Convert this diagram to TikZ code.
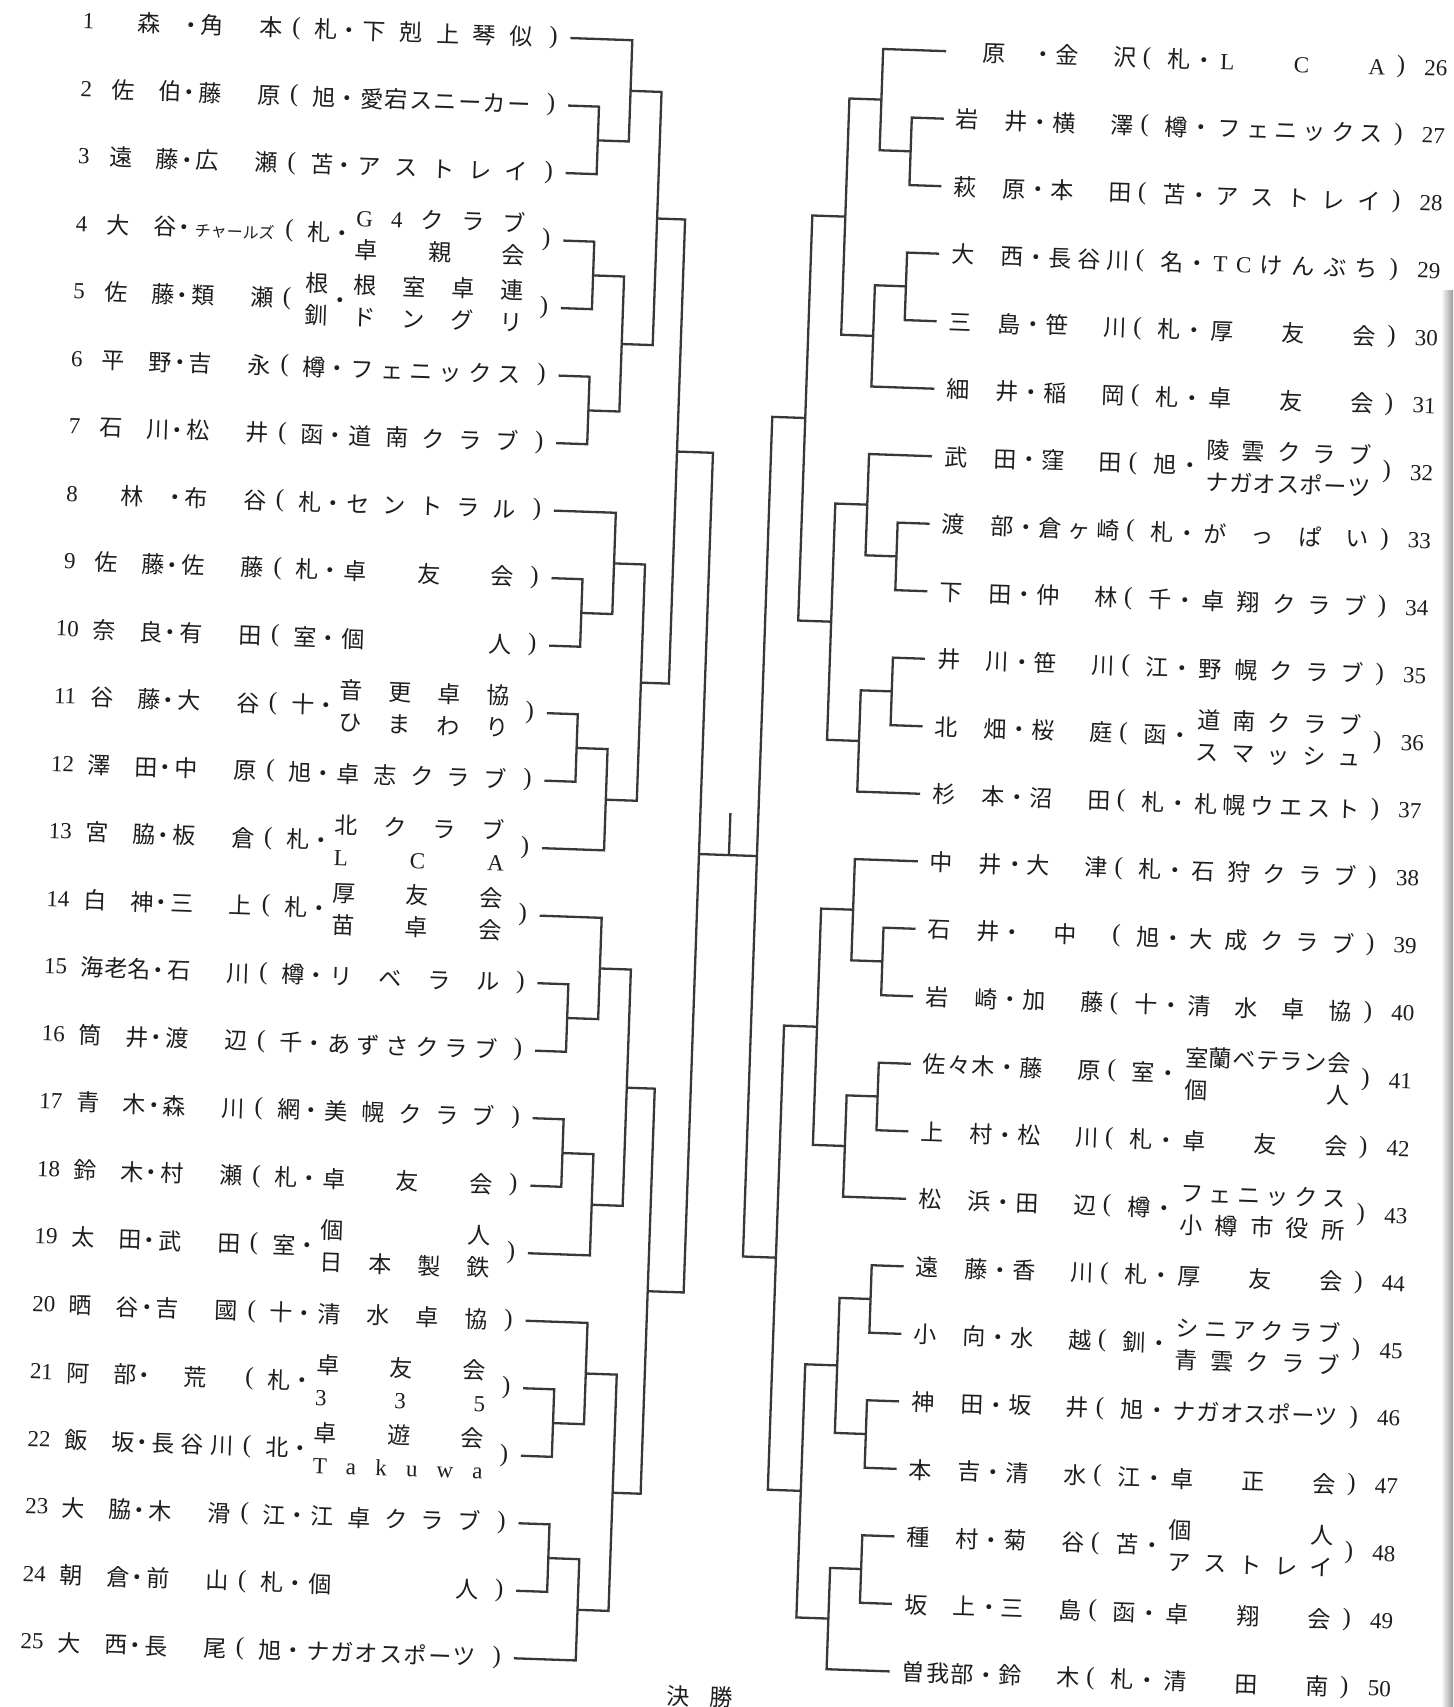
\documentclass[tikz,border=0pt]{standalone}
\usepackage{fontspec}
\newfontfamily\jp{Noto Sans CJK JP}
\newfontfamily\lat{Liberation Serif}
\newdimen\ux \ux=0.5pt
\makeatletter
\def\spx#1{\spx@a#1\relax}
\def\spx@a#1{{#1}\spx@b}
\def\spx@b#1{\ifx\relax#1\else\hfill{#1}\expandafter\spx@b\fi}
\makeatother
\newcommand\one[1]{\hfill#1\hfill}
\definecolor{ink}{HTML}{1E1E1E}
\definecolor{lin}{HTML}{383838}
\tikzset{
  t/.style={inner sep=0pt, font=\jp\fontsize{11.5}{13}\selectfont, text=ink, text height=10.1pt, text depth=1.4pt},
  num/.style={inner sep=0pt, font=\lat\fontsize{11.5}{13}\selectfont, text=ink},
  par/.style={inner sep=0pt, font=\lat\fontsize{12.5}{13}\selectfont, text=ink},
  br/.style={draw=lin, line width=1.15pt, line join=miter},
}
\newcommand\setpt[3]{\expandafter\xdef\csname PX#1\endcsname{#2}\expandafter\xdef\csname PY#1\endcsname{#3}\coordinate (#1) at (#2,#3);}
\newcommand\brk[4]{%
  \edef\ya{\csname PY#2\endcsname}\edef\yb{\csname PY#3\endcsname}%
  \pgfmathsetmacro\ym{(\ya+\yb)/2}%
  \draw[br] (#2) -- (#4,\ya) -- (#4,\yb) -- (#3);
  \setpt{#1}{#4}{\ym}}
\def\sideL{\def\Xn{60}\def\Xa{85}\def\Wa{70}\def\Xd{163}\def\Xb{172}\def\Wb{82}\def\Xp{268}\def\Xr{298}\def\Xs{321}\def\Xc{334}\def\Wc{170}\def\Xq{525}\def\Xe{542}}
\def\sideR{\def\Xn{1408}\def\Xa{930}\def\Wa{72}\def\Xd{1015}\def\Xb{1027}\def\Wb{81}\def\Xp{1119}\def\Xr{1151}\def\Xs{1176}\def\Xc{1192}\def\Wc{165}\def\Xq{1373}\def\Xe{918}}
% #1 number, #2 first name, #3 second name, #4 region, #5 club (line 1), #6 club line 2
\newcommand\ent[6]{%
  \pgfmathsetmacro\yy{44+67.55*(mod(#1-1,25))}%
  \node[num] (n#1) at (\Xn,\yy) {#1};
  \node[t,anchor=west] (a#1) at (\Xa,\yy) {\makebox[\Wa\ux][s]{#2}};
  \node[t] (d#1) at (\Xd,\yy) {・};
  \node[t,anchor=west] (b#1) at (\Xb,\yy) {\makebox[\Wb\ux][s]{#3}};
  \node[par] (p#1) at (\Xp,\yy) {(};
  \node[t] (r#1) at (\Xr,\yy) {#4};
  \node[t] (s#1) at (\Xs,\yy) {・};
  \if\relax\detokenize{#6}\relax
    \node[t,anchor=west] (c#1) at (\Xc,\yy) {\makebox[\Wc\ux][s]{\spx{#5}}};
  \else
    \node[t,anchor=west] (c#1) at (\Xc,\yy-16) {\makebox[\Wc\ux][s]{\spx{#5}}};
    \node[t,anchor=west] (cc#1) at (\Xc,\yy+16) {\makebox[\Wc\ux][s]{\spx{#6}}};
  \fi
  \node[par] (q#1) at (\Xq,\yy) {)};
  \setpt{E#1}{\Xe}{\yy}}
\begin{document}
\begin{tikzpicture}[x=0.5pt,y=-0.5pt]
\useasboundingbox (0,0) rectangle (1453,1707);
\fill[white] (0,0) rectangle (1453,1707);
\shade[left color=white, right color=black!40] (1441,290) rectangle (1453,1707);
\begin{scope}[rotate around={-2:(726.5,853.5)}, transform shape]
\sideL
\ent{1}{\one{森}}{\spx{角本}}{札}{下剋上琴似}{}
\ent{2}{\spx{佐伯}}{\spx{藤原}}{旭}{愛宕スニーカー}{}
\ent{3}{\spx{遠藤}}{\spx{広瀬}}{苫}{アストレイ}{}
\ent{4}{\spx{大谷}}{\one{\fontsize{8}{9}\selectfont チャールズ}}{札}{{\lat G}{\lat 4}クラブ}{卓親会}
\ent{5}{\spx{佐藤}}{\spx{類瀬}}{}{根室卓連}{ドングリ}
\node[t] (r5u) at (298,298.2) {根};
\node[t] (r5l) at (298,330.2) {釧};
\ent{6}{\spx{平野}}{\spx{吉永}}{樽}{フェニックス}{}
\ent{7}{\spx{石川}}{\spx{松井}}{函}{道南クラブ}{}
\ent{8}{\one{林}}{\spx{布谷}}{札}{セントラル}{}
\ent{9}{\spx{佐藤}}{\spx{佐藤}}{札}{卓友会}{}
\ent{10}{\spx{奈良}}{\spx{有田}}{室}{個人}{}
\ent{11}{\spx{谷藤}}{\spx{大谷}}{十}{音更卓協}{ひまわり}
\ent{12}{\spx{澤田}}{\spx{中原}}{旭}{卓志クラブ}{}
\ent{13}{\spx{宮脇}}{\spx{板倉}}{札}{北クラブ}{{\lat L}{\lat C}{\lat A}}
\ent{14}{\spx{白神}}{\spx{三上}}{札}{厚友会}{苗卓会}
\ent{15}{\spx{海老名}}{\spx{石川}}{樽}{リベラル}{}
\ent{16}{\spx{筒井}}{\spx{渡辺}}{千}{あずさクラブ}{}
\ent{17}{\spx{青木}}{\spx{森川}}{網}{美幌クラブ}{}
\ent{18}{\spx{鈴木}}{\spx{村瀬}}{札}{卓友会}{}
\ent{19}{\spx{太田}}{\spx{武田}}{室}{個人}{日本製鉄}
\ent{20}{\spx{晒谷}}{\spx{吉國}}{十}{清水卓協}{}
\ent{21}{\spx{阿部}}{\one{荒}}{札}{卓友会}{{\lat 3}{\lat 3}{\lat 5}}
\ent{22}{\spx{飯坂}}{\spx{長谷川}}{北}{卓遊会}{{\lat T}{\lat a}{\lat k}{\lat u}{\lat w}{\lat a}}
\ent{23}{\spx{大脇}}{\spx{木滑}}{江}{江卓クラブ}{}
\ent{24}{\spx{朝倉}}{\spx{前山}}{札}{個人}{}
\ent{25}{\spx{大西}}{\spx{長尾}}{旭}{ナガオスポーツ}{}
\sideR
\ent{26}{\one{原}}{\spx{金沢}}{札}{{\lat L}{\lat C}{\lat A}}{}
\ent{27}{\spx{岩井}}{\spx{横澤}}{樽}{フェニックス}{}
\ent{28}{\spx{萩原}}{\spx{本田}}{苫}{アストレイ}{}
\ent{29}{\spx{大西}}{\spx{長谷川}}{名}{{\lat T}{\lat C}けんぶち}{}
\ent{30}{\spx{三島}}{\spx{笹川}}{札}{厚友会}{}
\ent{31}{\spx{細井}}{\spx{稲岡}}{札}{卓友会}{}
\ent{32}{\spx{武田}}{\spx{窪田}}{旭}{陵雲クラブ}{ナガオスポーツ}
\ent{33}{\spx{渡部}}{\spx{倉ヶ崎}}{札}{がっぱい}{}
\ent{34}{\spx{下田}}{\spx{仲林}}{千}{卓翔クラブ}{}
\ent{35}{\spx{井川}}{\spx{笹川}}{江}{野幌クラブ}{}
\ent{36}{\spx{北畑}}{\spx{桜庭}}{函}{道南クラブ}{スマッシュ}
\ent{37}{\spx{杉本}}{\spx{沼田}}{札}{札幌ウエスト}{}
\ent{38}{\spx{中井}}{\spx{大津}}{札}{石狩クラブ}{}
\ent{39}{\spx{石井}}{\one{中}}{旭}{大成クラブ}{}
\ent{40}{\spx{岩崎}}{\spx{加藤}}{十}{清水卓協}{}
\ent{41}{\spx{佐々木}}{\spx{藤原}}{室}{室蘭ベテラン会}{個人}
\ent{42}{\spx{上村}}{\spx{松川}}{札}{卓友会}{}
\ent{43}{\spx{松浜}}{\spx{田辺}}{樽}{フェニックス}{小樽市役所}
\ent{44}{\spx{遠藤}}{\spx{香川}}{札}{厚友会}{}
\ent{45}{\spx{小向}}{\spx{水越}}{釧}{シニアクラブ}{青雲クラブ}
\ent{46}{\spx{神田}}{\spx{坂井}}{旭}{ナガオスポーツ}{}
\ent{47}{\spx{本吉}}{\spx{清水}}{江}{卓正会}{}
\ent{48}{\spx{種村}}{\spx{菊谷}}{苫}{個人}{アストレイ}
\ent{49}{\spx{坂上}}{\spx{三島}}{函}{卓翔会}{}
\ent{50}{\spx{曽我部}}{\spx{鈴木}}{札}{清田南}{}
% left bracket
\brk{LA}{E2}{E3}{573}
\brk{LB}{E1}{LA}{604}
\brk{LC}{E4}{E5}{573}
\brk{LD}{E6}{E7}{573}
\brk{LE}{LC}{LD}{604}
\brk{LF}{LB}{LE}{635}
\brk{LG}{E9}{E10}{573}
\brk{LH}{E8}{LG}{604}
\brk{LI}{E11}{E12}{573}
\brk{LJ}{LI}{E13}{604}
\brk{LK}{LH}{LJ}{635}
\brk{LL}{LF}{LK}{663}
\brk{LM}{E15}{E16}{573}
\brk{LN}{E14}{LM}{604}
\brk{LO}{E17}{E18}{573}
\brk{LP}{LO}{E19}{604}
\brk{LQ}{LN}{LP}{635}
\brk{LR}{E21}{E22}{573}
\brk{LS}{E20}{LR}{604}
\brk{LT}{E23}{E24}{573}
\brk{LU}{LT}{E25}{604}
\brk{LV}{LS}{LU}{635}
\brk{LW}{LQ}{LV}{663}
\brk{LX}{LL}{LW}{699}
% right bracket
\brk{RA}{E27}{E28}{886}
\brk{RB}{E26}{RA}{855}
\brk{RC}{E29}{E30}{886}
\brk{RD}{RC}{E31}{855}
\brk{RE}{RB}{RD}{823}
\brk{RF}{E33}{E34}{886}
\brk{RG}{E32}{RF}{855}
\brk{RH}{E35}{E36}{886}
\brk{RI}{RH}{E37}{855}
\brk{RJ}{RG}{RI}{823}
\brk{RK}{RE}{RJ}{790}
\brk{RL}{E39}{E40}{886}
\brk{RM}{E38}{RL}{855}
\brk{RN}{E41}{E42}{886}
\brk{RO}{RN}{E43}{855}
\brk{RP}{RM}{RO}{823}
\brk{RQ}{E44}{E45}{886}
\brk{RR}{E46}{E47}{886}
\brk{RS}{RQ}{RR}{855}
\brk{RT}{E48}{E49}{886}
\brk{RU}{RT}{E50}{855}
\brk{RV}{RS}{RU}{823}
\brk{RW}{RP}{RV}{790}
\brk{RX}{RK}{RW}{757}
% final
\coordinate (FL) at (699,855);
\coordinate (FR) at (757,855);
\coordinate (FB) at (729,855);
\coordinate (FT) at (729,813);
\draw[br] (FL) -- (FR);
\draw[br] (FB) -- (FT);
\node[t] (fin) at (729,1697) {\makebox[66\ux][s]{決\hfill 勝}};
\end{scope}
\end{tikzpicture}
\end{document}
